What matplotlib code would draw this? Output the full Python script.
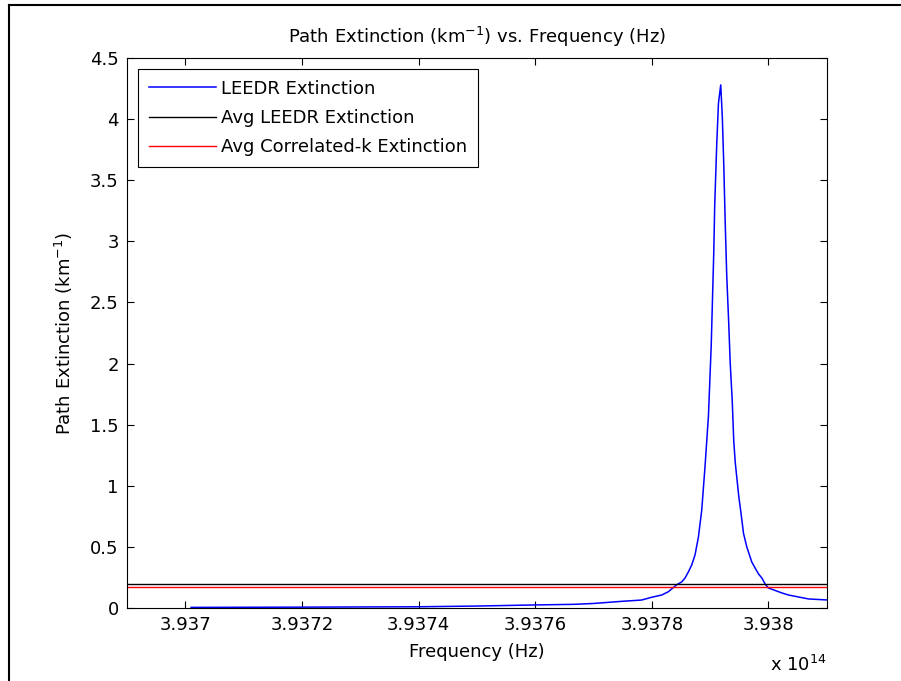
"""Path extinction vs frequency: LEEDR line profile with the two band averages."""

import matplotlib

matplotlib.use("Agg")
import matplotlib.pyplot as plt
from matplotlib.lines import Line2D
from matplotlib.ticker import FixedLocator, FuncFormatter

# frequency in units of 1e14 Hz, extinction in km^-1
FREQ_E14 = [
    3.93701, 3.9372, 3.9374, 3.9375, 3.9376, 3.937667, 3.9377, 3.93775,
    3.9377825, 3.9378, 3.9378169, 3.9378284, 3.9378427, 3.9378513, 3.937857,
    3.9378628, 3.9378685, 3.9378742, 3.93788, 3.9378857, 3.9378914, 3.9378972,
    3.937902, 3.9379063, 3.937908, 3.9379115, 3.9379144, 3.9379183, 3.937921,
    3.9379235, 3.937926, 3.9379286, 3.937932, 3.9379346, 3.937938, 3.9379406,
    3.9379432, 3.9379467, 3.9379493, 3.9379527, 3.9379574, 3.937963,
    3.9379716, 3.9379773, 3.9379832, 3.9379889, 3.9379945, 3.938, 3.9380232,
    3.9380348, 3.938069, 3.9381,
]
EXTINCTION = [
    0.005, 0.007, 0.010, 0.016, 0.025, 0.030, 0.037, 0.055,
    0.065, 0.088, 0.106, 0.133, 0.19, 0.213, 0.245,
    0.295, 0.352, 0.434, 0.58, 0.80, 1.16, 1.57,
    2.15, 2.90, 3.30, 3.80, 4.13, 4.28, 4.02,
    3.63, 3.15, 2.72, 2.33, 2.00, 1.70, 1.37,
    1.19, 1.03, 0.91, 0.79, 0.61, 0.50,
    0.376, 0.327, 0.278, 0.245, 0.196, 0.164, 0.123,
    0.106, 0.074, 0.066,
]
AVG_LEEDR = 0.195
AVG_CORR_K = 0.170

X_TICKS = [3.937, 3.9372, 3.9374, 3.9376, 3.9378, 3.938]
Y_TICKS = [0, 0.5, 1, 1.5, 2, 2.5, 3, 3.5, 4, 4.5]
LABELS = ["LEEDR Extinction", "Avg LEEDR Extinction", "Avg Correlated-k Extinction"]

FS = 13


def main() -> None:
    plt.rcParams["font.family"] = ["DejaVu Sans"]
    plt.rcParams["mathtext.fontset"] = "dejavusans"

    fig = plt.figure(figsize=(9.01, 6.81), dpi=100)
    ax = fig.add_axes([0.141, 0.1072, 0.7765, 0.8076])

    ax.plot(FREQ_E14, EXTINCTION, color="#0000ff", lw=1.1, label=LABELS[0])
    ax.axhline(AVG_LEEDR, color="black", lw=1.0, label=LABELS[1])
    ax.axhline(AVG_CORR_K, color="#ff0000", lw=1.0, label=LABELS[2])

    ax.set_xlim(3.9369, 3.9381)
    ax.set_ylim(0, 4.5)
    ax.xaxis.set_major_locator(FixedLocator(X_TICKS))
    ax.yaxis.set_major_locator(FixedLocator(Y_TICKS))
    ax.xaxis.set_major_formatter(FuncFormatter(lambda v, _: f"{v:g}"))
    ax.yaxis.set_major_formatter(FuncFormatter(lambda v, _: f"{v:g}"))
    ax.tick_params(direction="in", length=5, width=0.8, labelsize=FS,
                   top=True, right=True, pad=6)
    for sp in ax.spines.values():
        sp.set_linewidth(0.8)

    ax.set_title("Path Extinction (km$^{-1}$) vs. Frequency (Hz)",
                 fontsize=FS, y=1.027, pad=0)
    ax.set_xlabel("Frequency (Hz)", fontsize=FS)
    ax.xaxis.set_label_coords(0.5, -0.063)
    ax.set_ylabel("Path Extinction (km$^{-1}$)", fontsize=FS)
    ax.yaxis.set_label_coords(-0.075, 0.5)
    ax.text(1.0, -0.1145, "x 10$^{14}$", transform=ax.transAxes,
            ha="right", va="baseline", fontsize=FS)

    leg = ax.legend(loc="upper left", bbox_to_anchor=(0.016, 0.9795),
                    borderaxespad=0, fontsize=FS, fancybox=False,
                    edgecolor="black", framealpha=1, handlelength=3.7,
                    handletextpad=0.3, borderpad=0.58, labelspacing=0.62)
    leg.get_frame().set_linewidth(0.8)

    # outer frame (left and top edges visible in the original export)
    lw = 1.5
    fig.add_artist(Line2D([8.5 / 901, 8.5 / 901], [0, 1 - 5 / 681],
                          transform=fig.transFigure, color="black", lw=lw))
    fig.add_artist(Line2D([8.5 / 901, 1], [1 - 5 / 681, 1 - 5 / 681],
                          transform=fig.transFigure, color="black", lw=lw))

    fig.savefig("out.png", dpi=100, facecolor="white")
    plt.close(fig)


if __name__ == "__main__":
    main()
